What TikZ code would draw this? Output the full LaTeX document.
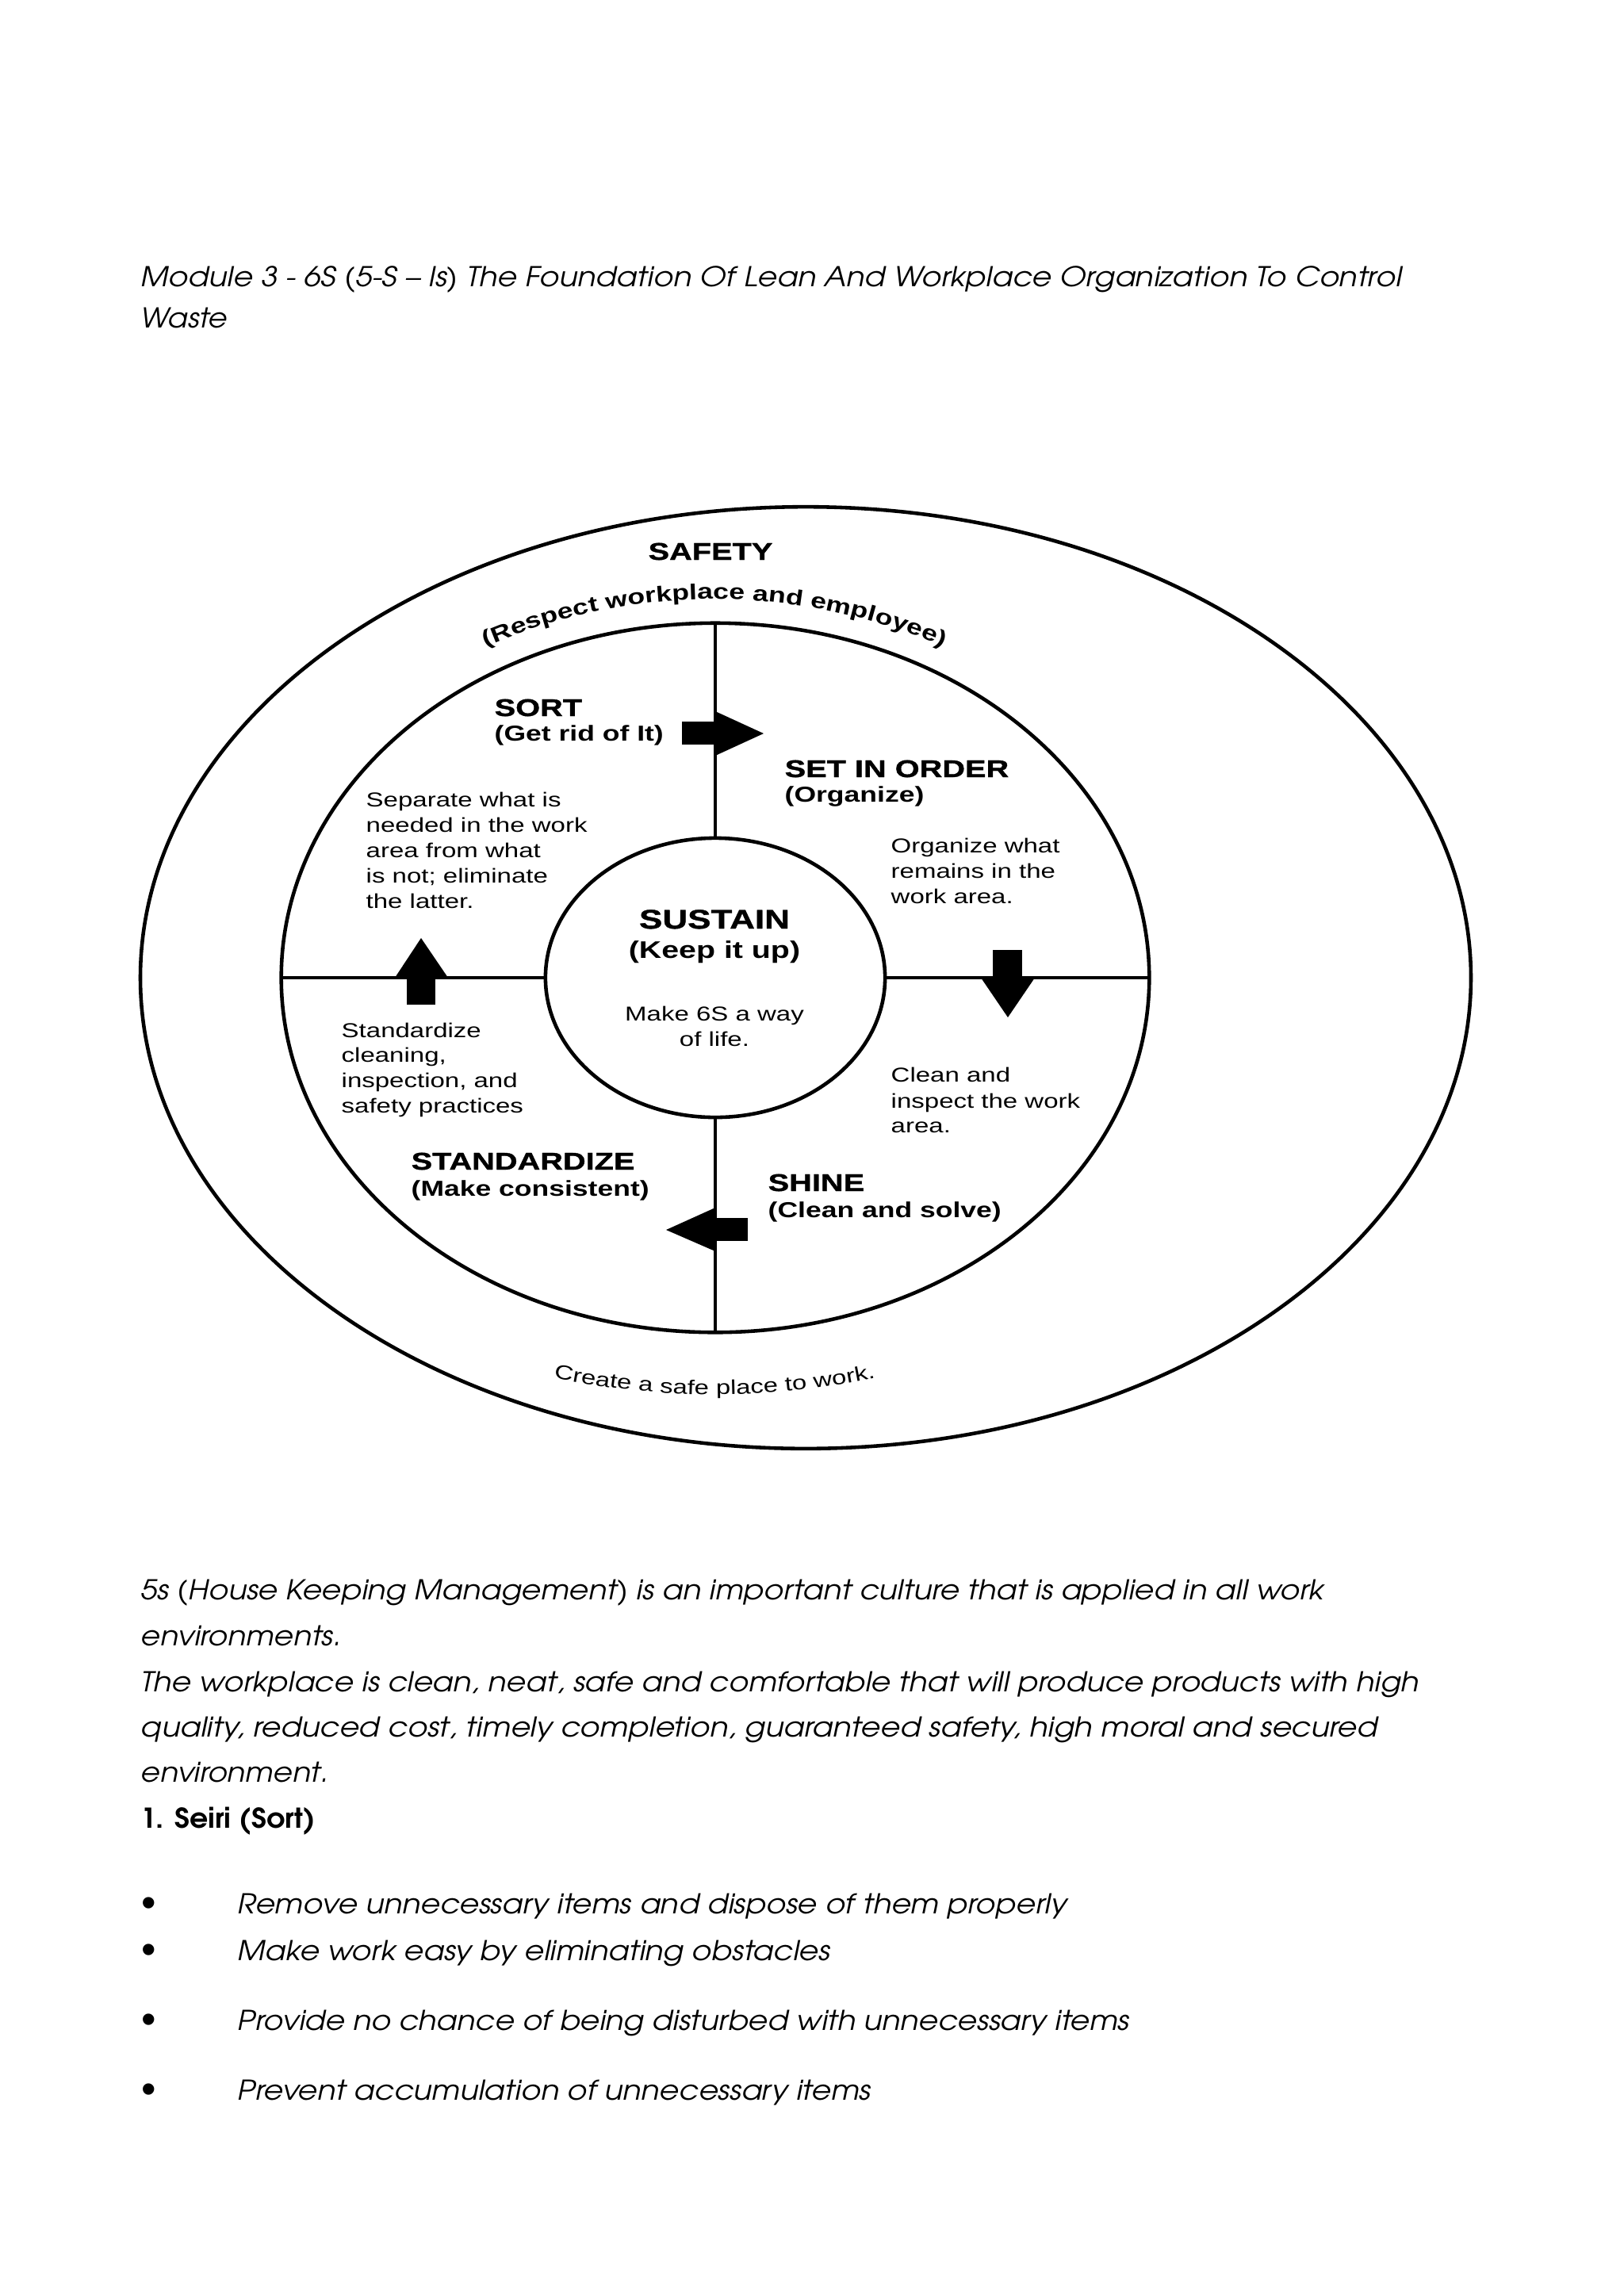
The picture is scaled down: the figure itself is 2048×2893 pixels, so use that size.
\documentclass[tikz,border=0pt]{standalone}
\usepackage{fontspec}
\usepackage{graphicx}
\usetikzlibrary{shapes.geometric,decorations.text}
\setmainfont{Liberation Sans}
\newfontfamily\gothic{texgyreadventor}[Extension=.otf,UprightFont=*-regular,ItalicFont=*-italic,BoldFont=*-bold,BoldItalicFont=*-bolditalic]
\newfontfamily\dfont{Liberation Sans}[FakeStretch=1.3]
\newfontfamily\hfont{Liberation Sans Bold}[FakeStretch=1.3,FakeBold=1.2]
\newcommand\fitto[2]{\resizebox{#1}{\height}{#2}}
\begin{document}
\begin{tikzpicture}[x=0.01cm,y=0.01cm,
  ring/.style={draw, ellipse, line width=1.3pt, inner sep=0pt, outer sep=0pt},
  divider/.style={line width=1.3pt},
  blockarrow/.style={fill=black},
  bodytxt/.style={font=\dfont\fontsize{7.22}{8.7}\selectfont, anchor=base west, inner sep=0pt},
  bodyctr/.style={bodytxt, anchor=base},
  headtxt/.style={font=\hfont\fontsize{8.69}{10}\selectfont, anchor=base west, inner sep=0pt},
  headctr/.style={headtxt, anchor=base},
  subtxt/.style={font=\dfont\bfseries\fontsize{7.77}{9}\selectfont, anchor=base west, inner sep=0pt},
  paratxt/.style={font=\gothic\itshape\fontsize{9.8}{12}\selectfont, anchor=base west, inner sep=0pt},
  boldpara/.style={font=\gothic\bfseries\fontsize{9.8}{12}\selectfont, anchor=base west, inner sep=0pt},
  bulletmark/.style={font=\fontsize{15}{16}\selectfont, inner sep=0pt},
]
\useasboundingbox[fill=white] (0,0) rectangle (2048,-2893);

% ---------- title ----------
\node[paratxt] (title1) at (177,-361) {\fitto{15.89cm}{Module 3 - 6S (5-S – Is) The Foundation Of Lean And Workplace Organization To Control}};
\node[paratxt] (title2) at (177,-413) {\fitto{1.09cm}{Waste}};

% ---------- rings ----------
\node[ring, minimum width=16.77cm, minimum height=11.87cm] (outer) at (1016,-1233) {};
\node[ring, minimum width=10.94cm, minimum height=8.94cm] (middle) at (902,-1233) {};
\node[ring, minimum width=4.28cm, minimum height=3.52cm] (inner) at (902,-1233) {};

\draw[divider] (middle.north) -- (inner.north);
\draw[divider] (inner.south) -- (middle.south);
\draw[divider] (middle.west) -- (inner.west);
\draw[divider] (inner.east) -- (middle.east);

% ---------- block arrows ----------
\fill[blockarrow] (860,-910) rectangle (904,-939);
\fill[blockarrow] (902,-897) -- (963,-925) -- (902,-953) -- cycle;
\fill[blockarrow] (1252,-1198) rectangle (1289,-1235);
\fill[blockarrow] (1237,-1233) -- (1305,-1233) -- (1271,-1283) -- cycle;
\fill[blockarrow] (900,-1536) rectangle (943,-1565);
\fill[blockarrow] (902,-1523) -- (840,-1551) -- (902,-1578) -- cycle;
\fill[blockarrow] (513,-1231) rectangle (549,-1267);
\fill[blockarrow] (498,-1233) -- (531,-1183) -- (565,-1233) -- cycle;

% ---------- curved texts ----------
\path[decorate, decoration={text along path, text align=center,
  text={|\dfont\bfseries\fontsize{7.79}{9}\selectfont|(Respect workplace and employee)}}]
  (901,-1476) ++(140:7.2cm) arc[start angle=140, end angle=40, radius=7.2cm];
\path[decorate, decoration={text along path, text align=center,
  text={|\dfont\fontsize{7.18}{9}\selectfont|Create a safe place to work.}}]
  (901,-766) ++(240:9.92cm) arc[start angle=240, end angle=300, radius=9.92cm];

% ---------- headings ----------
\node[headctr] (safety) at (896,-706) {SAFETY};
\node[headtxt] (sort) at (623,-903) {SORT};
\node[subtxt] (sortsub) at (623,-934) {(Get rid of It)};
\node[headtxt] (setorder) at (989,-980) {SET IN ORDER};
\node[subtxt] (setsub) at (989,-1011) {(Organize)};
\node[headctr, font=\hfont\fontsize{9.63}{11}\selectfont] (sustain) at (901,-1171) {SUSTAIN};
\node[headctr, font=\dfont\bfseries\fontsize{8.6}{10}\selectfont] (sustainsub) at (901,-1208) {(Keep it up)};
\node[headtxt] (standard) at (518,-1475) {STANDARDIZE};
\node[subtxt] (standardsub) at (518,-1508) {(Make consistent)};
\node[headtxt] (shine) at (968,-1502) {SHINE};
\node[subtxt] (shinesub) at (968,-1535) {(Clean and solve)};

% ---------- body texts ----------
\node[bodytxt] (sep1) at (461,-1017) {Separate what is};
\node[bodytxt] (sep2) at (461,-1049) {needed in the work};
\node[bodytxt] (sep3) at (461,-1081) {area from what};
\node[bodytxt] (sep4) at (461,-1113) {is not; eliminate};
\node[bodytxt] (sep5) at (461,-1145) {the latter.};

\node[bodytxt] (org1) at (1123,-1075) {Organize what};
\node[bodytxt] (org2) at (1123,-1107) {remains in the};
\node[bodytxt] (org3) at (1123,-1139) {work area.};

\node[bodyctr] (way1) at (901,-1287) {Make 6S a way};
\node[bodyctr] (way2) at (901,-1319) {of life.};

\node[bodytxt] (std1) at (430,-1308) {Standardize};
\node[bodytxt] (std2) at (430,-1339) {cleaning,};
\node[bodytxt] (std3) at (430,-1371) {inspection, and};
\node[bodytxt] (std4) at (430,-1403) {safety practices};

\node[bodytxt] (cln1) at (1123,-1364) {Clean and};
\node[bodytxt] (cln2) at (1123,-1397) {inspect the work};
\node[bodytxt] (cln3) at (1123,-1428) {area.};

% ---------- paragraphs ----------
\node[paratxt] (p1) at (177,-2017) {\fitto{14.91cm}{5s (House Keeping Management) is an important culture that is applied in all work}};
\node[paratxt] (p2) at (177,-2075) {\fitto{2.53cm}{environments.}};
\node[paratxt] (p3) at (177,-2133) {\fitto{16.11cm}{The workplace is clean, neat, safe and comfortable that will produce products with high}};
\node[paratxt] (p4) at (177,-2190) {\fitto{15.59cm}{quality, reduced cost, timely completion, guaranteed safety, high moral and secured}};
\node[paratxt] (p5) at (177,-2247) {\fitto{2.37cm}{environment.}};
\node[boldpara] (seiri) at (177,-2305) {\fitto{2.20cm}{1. Seiri (Sort)}};

\node[bulletmark] (b1) at (188,-2405) {•};
\node[bulletmark] (b2) at (188,-2464) {•};
\node[bulletmark] (b3) at (188,-2552) {•};
\node[bulletmark] (b4) at (188,-2640) {•};
\node[paratxt] (l1) at (299,-2413) {\fitto{10.45cm}{Remove unnecessary items and dispose of them properly}};
\node[paratxt] (l2) at (299,-2472) {\fitto{7.47cm}{Make work easy by eliminating obstacles}};
\node[paratxt] (l3) at (299,-2560) {\fitto{11.24cm}{Provide no chance of being disturbed with unnecessary items}};
\node[paratxt] (l4) at (299,-2648) {\fitto{7.98cm}{Prevent accumulation of unnecessary items}};
\end{tikzpicture}
\end{document}
